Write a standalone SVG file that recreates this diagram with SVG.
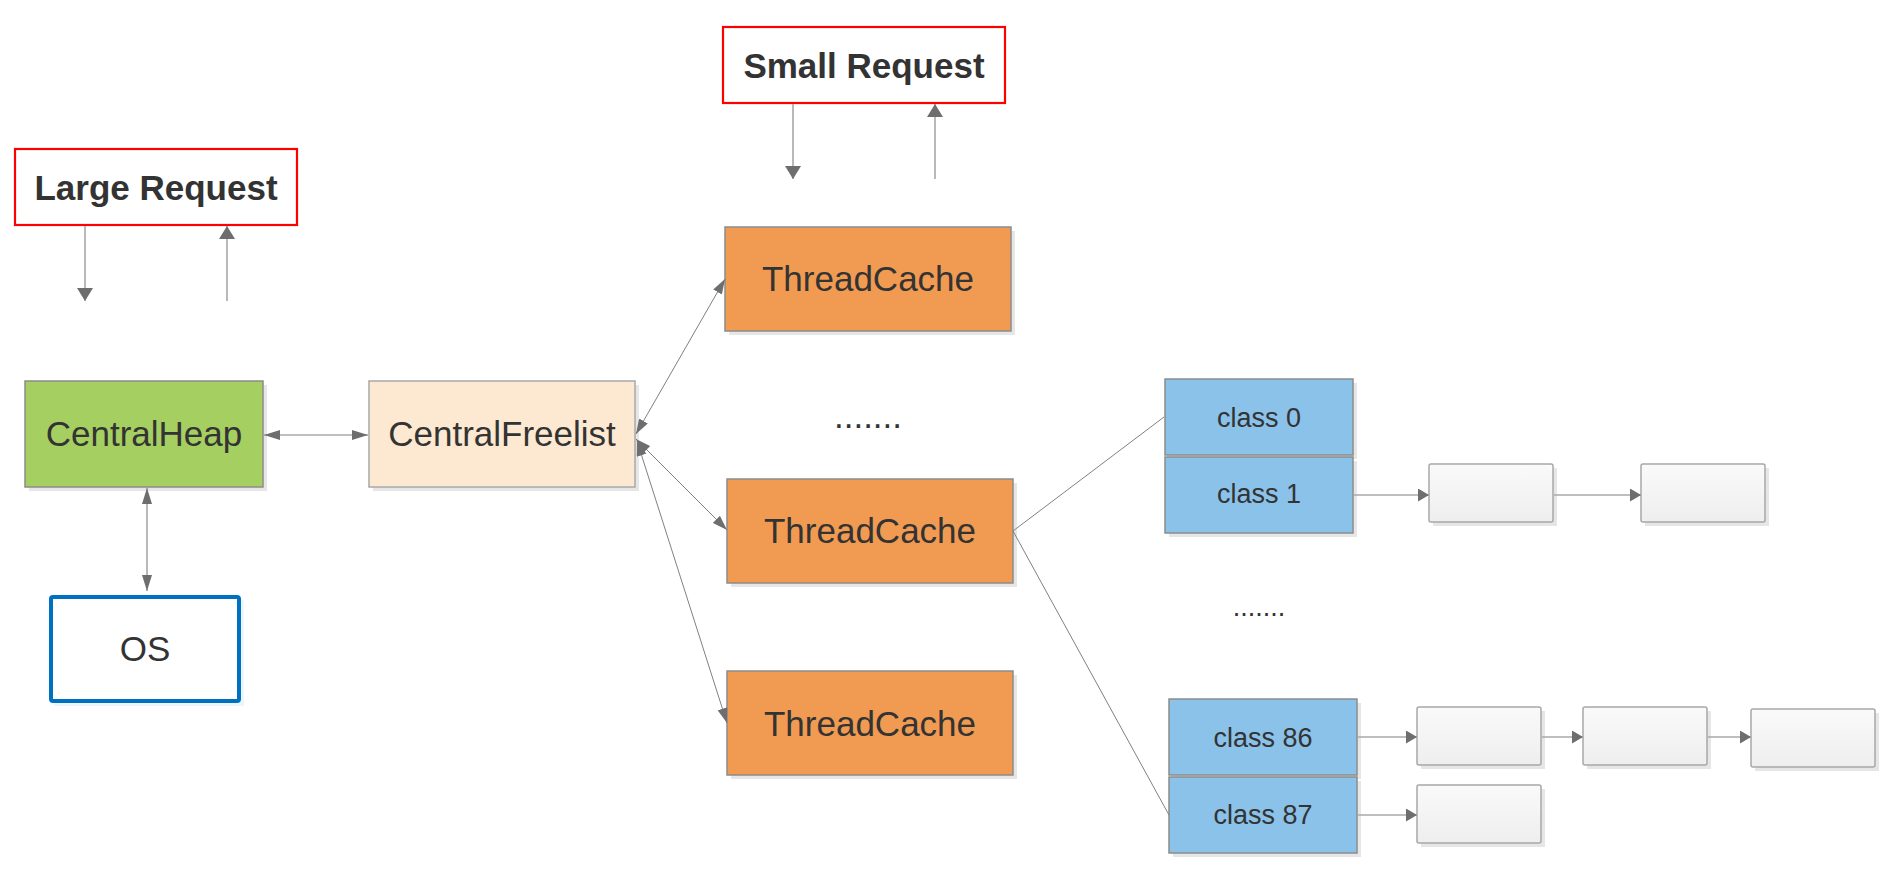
<svg xmlns="http://www.w3.org/2000/svg" width="1894" height="894" viewBox="0 0 1894 894">
<style>
  .t { font-family: "Liberation Sans", Arial, sans-serif; fill: #333333; text-anchor: middle; }
  .big { font-size: 35px; }
  .bold { font-size: 35px; font-weight: bold; }
  .small { font-size: 27px; }
  .req { fill: #ffffff; stroke: #ff0000; stroke-width: 2.2; }
  .sh { fill: #e6e6e6; }
  .node { stroke: #8c8c8c; stroke-width: 1.5; }
  .heap { fill: #a5cf61; }
  .cfl { fill: #fde9d1; stroke: #a8a8a8; stroke-width: 1.5; }
  .tc { fill: #f19a52; }
  .cls { fill: #8bc2ea; }
  .blk { fill: url(#g); stroke: #a8a8a8; stroke-width: 1.5; }
  .thick { stroke: #a8a8a8; stroke-width: 1.6; fill: none; }
  .thin { stroke: #808080; stroke-width: 1; fill: none; }
</style>
<defs>
  <linearGradient id="g" x1="0" y1="0" x2="0" y2="1">
    <stop offset="0" stop-color="#fafafa"/>
    <stop offset="1" stop-color="#eeeeee"/>
  </linearGradient>
  <marker id="ahReq" markerUnits="userSpaceOnUse" viewBox="0 0 13 16" markerWidth="13" markerHeight="16" refX="13" refY="8" orient="auto-start-reverse">
    <path d="M0,0 L13,8 L0,16 z" fill="#6e6e6e"/>
  </marker>
  <marker id="ahH" markerUnits="userSpaceOnUse" viewBox="0 0 16 10" markerWidth="16" markerHeight="10" refX="16" refY="5" orient="auto-start-reverse">
    <path d="M0,0 L16,5 L0,10 z" fill="#6e6e6e"/>
  </marker>
  <marker id="ahT" markerUnits="userSpaceOnUse" viewBox="0 0 15 10" markerWidth="15" markerHeight="10" refX="15" refY="5" orient="auto-start-reverse">
    <path d="M0,0 L15,5 L0,10 z" fill="#6e6e6e"/>
  </marker>
  <marker id="ahC" markerUnits="userSpaceOnUse" viewBox="0 0 11 13" markerWidth="11" markerHeight="13" refX="11" refY="6.5" orient="auto">
    <path d="M0,0 L11,6.5 L0,13 z" fill="#6e6e6e"/>
  </marker>
</defs>

<g id="large-request">
  <rect class="req" x="15" y="149" width="282" height="76"/>
  <text class="t bold" x="156" y="200">Large Request</text>
</g>

<g id="small-request">
  <rect class="req" x="723" y="27" width="282" height="76"/>
  <text class="t bold" x="864" y="78">Small Request</text>
</g>

<g id="central-heap">
  <rect class="sh" x="29" y="385" width="238" height="106"/>
  <rect class="node heap" x="25" y="381" width="238" height="106"/>
  <text class="t big" x="144" y="446">CentralHeap</text>
</g>

<g id="central-freelist">
  <rect class="sh" x="373" y="385" width="266" height="106"/>
  <rect class="cfl" x="369" y="381" width="266" height="106"/>
  <text class="t big" x="502" y="446">CentralFreelist</text>
</g>

<g id="os">
  <rect x="54" y="600" width="190" height="106" fill="#eaf5fd"/>
  <rect x="51" y="597" width="188" height="104" rx="2" fill="#ffffff" stroke="#0070c0" stroke-width="4"/>
  <text class="t big" x="145" y="661">OS</text>
</g>

<g id="thread-cache-1">
  <rect class="sh" x="729" y="231" width="286" height="104"/>
  <rect class="node tc" x="725" y="227" width="286" height="104"/>
  <text class="t big" x="868" y="291">ThreadCache</text>
</g>

<g id="dots-threads">
  <text class="t big" x="868" y="428">.......</text>
</g>

<g id="thread-cache-2">
  <rect class="sh" x="731" y="483" width="286" height="104"/>
  <rect class="node tc" x="727" y="479" width="286" height="104"/>
  <text class="t big" x="870" y="543">ThreadCache</text>
</g>

<g id="thread-cache-3">
  <rect class="sh" x="731" y="675" width="286" height="104"/>
  <rect class="node tc" x="727" y="671" width="286" height="104"/>
  <text class="t big" x="870" y="736">ThreadCache</text>
</g>

<g id="class-0">
  <rect class="sh" x="1169" y="383" width="188" height="76"/>
  <rect class="node cls" x="1165" y="379" width="188" height="76"/>
  <text class="t small" x="1259" y="427">class 0</text>
</g>

<g id="class-1">
  <rect class="sh" x="1169" y="461" width="188" height="76"/>
  <rect class="node cls" x="1165" y="457" width="188" height="76"/>
  <text class="t small" x="1259" y="503">class 1</text>
</g>

<g id="dots-classes">
  <text class="t small" x="1259" y="616">.......</text>
</g>

<g id="class-86">
  <rect class="sh" x="1173" y="703" width="188" height="76"/>
  <rect class="node cls" x="1169" y="699" width="188" height="76"/>
  <text class="t small" x="1263" y="747">class 86</text>
</g>

<g id="class-87">
  <rect class="sh" x="1173" y="781" width="188" height="76"/>
  <rect class="node cls" x="1169" y="777" width="188" height="76"/>
  <text class="t small" x="1263" y="824">class 87</text>
</g>

<g id="block-1-1">
  <rect class="sh" x="1433" y="468" width="124" height="58"/>
  <rect class="blk" x="1429" y="464" width="124" height="58" rx="2"/>
</g>
<g id="block-1-2">
  <rect class="sh" x="1645" y="468" width="124" height="58"/>
  <rect class="blk" x="1641" y="464" width="124" height="58" rx="2"/>
</g>
<g id="block-86-1">
  <rect class="sh" x="1421" y="711" width="124" height="58"/>
  <rect class="blk" x="1417" y="707" width="124" height="58" rx="2"/>
</g>
<g id="block-86-2">
  <rect class="sh" x="1587" y="711" width="124" height="58"/>
  <rect class="blk" x="1583" y="707" width="124" height="58" rx="2"/>
</g>
<g id="block-86-3">
  <rect class="sh" x="1755" y="713" width="124" height="58"/>
  <rect class="blk" x="1751" y="709" width="124" height="58" rx="2"/>
</g>
<g id="block-87-1">
  <rect class="sh" x="1421" y="789" width="124" height="58"/>
  <rect class="blk" x="1417" y="785" width="124" height="58" rx="2"/>
</g>

<g id="connectors">
  <line class="thick" x1="85" y1="226" x2="85" y2="301" marker-end="url(#ahReq)"/>
  <line class="thick" x1="227" y1="301" x2="227" y2="226" marker-end="url(#ahReq)"/>
  <line class="thick" x1="793" y1="104" x2="793" y2="179" marker-end="url(#ahReq)"/>
  <line class="thick" x1="935" y1="179" x2="935" y2="104" marker-end="url(#ahReq)"/>
  <line class="thick" x1="264" y1="435" x2="368" y2="435" marker-start="url(#ahH)" marker-end="url(#ahH)"/>
  <line class="thick" x1="147" y1="488" x2="147" y2="591" marker-start="url(#ahH)" marker-end="url(#ahH)"/>
  <line class="thin" x1="636" y1="434" x2="725" y2="279" marker-start="url(#ahT)" marker-end="url(#ahT)"/>
  <line class="thin" x1="636" y1="439" x2="727" y2="530" marker-start="url(#ahT)" marker-end="url(#ahT)"/>
  <line class="thin" x1="637" y1="441" x2="727" y2="723" marker-start="url(#ahT)" marker-end="url(#ahT)"/>
  <line class="thin" x1="1013" y1="531" x2="1164" y2="417"/>
  <line class="thin" x1="1013" y1="531" x2="1169" y2="815"/>
  <line class="thick" x1="1354" y1="495" x2="1429" y2="495" marker-end="url(#ahC)"/>
  <line class="thick" x1="1554" y1="495" x2="1641" y2="495" marker-end="url(#ahC)"/>
  <line class="thick" x1="1358" y1="737" x2="1417" y2="737" marker-end="url(#ahC)"/>
  <line class="thick" x1="1542" y1="737" x2="1583" y2="737" marker-end="url(#ahC)"/>
  <line class="thick" x1="1708" y1="737" x2="1751" y2="737" marker-end="url(#ahC)"/>
  <line class="thick" x1="1358" y1="815" x2="1417" y2="815" marker-end="url(#ahC)"/>
</g>
</svg>
